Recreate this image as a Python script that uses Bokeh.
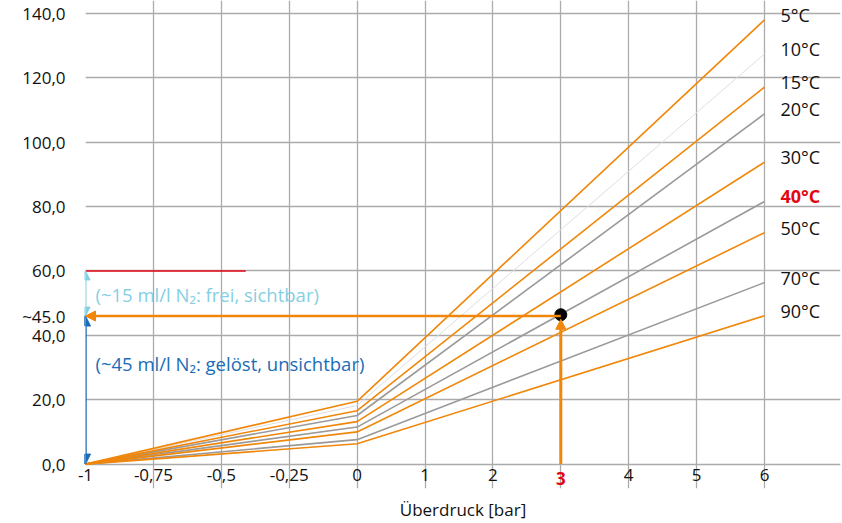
from bokeh.plotting import figure
from bokeh.models import (FixedTicker, Label, LabelSet, ColumnDataSource, Arrow,
                          NormalHead)
from bokeh.core.properties import value
from bokeh.embed import file_html
from bokeh.resources import INLINE

# ---------------- data ----------------
temps = ["5°C", "10°C", "15°C", "20°C", "30°C", "40°C", "50°C", "70°C", "90°C"]
val_at_minus1 = [0, 0, 0, 0, 0, 0, 0, 0, 0]
val_at_0bar = [19.5, 18.2, 16.6, 15.1, 13.2, 11.5, 10.0, 7.6, 6.3]
val_at_6bar = [138.0, 127.4, 117.1, 108.8, 93.8, 81.6, 71.9, 56.4, 46.1]
line_kind = ["orange", "light", "orange", "grey", "orange", "grey", "orange", "grey", "orange"]

x_ticks_bar = [-1, -0.75, -0.5, -0.25, 0, 1, 2, 3, 4, 5, 6]
x_tick_labels = ["-1", "-0,75", "-0,5", "-0,25", "0", "1", "2", "3", "4", "5", "6"]
y_ticks = [0, 20, 40, 60, 80, 100, 120, 140]
y_tick_labels = ["0,0", "20,0", "40,0", "60,0", "80,0", "100,0", "120,0", "140,0"]

work_pressure = 3          # bar
work_value = 46            # ml/l dissolved at 40°C, 3 bar ("~45")
work_label = "~45.0"
saturation_value = 60      # red line
saturation_end_bar = -0.41
highlight_temp = "40°C"
text_free = "(~15 ml/l N₂: frei, sichtbar)"
text_dissolved = "(~45 ml/l N₂: gelöst, unsichtbar)"
text_free_y = 52.7
text_dissolved_y = 31.4
x_title = "Überdruck [bar]"

# ---------------- styling ----------------
FONT = "Open Sans"
TXT = "#111111"
ORANGE = "#f0870a"
GREY = "#9a9a9a"
LIGHT = "#dedede"
RED = "#e30613"
LBLUE = "#85cfe3"
DBLUE = "#1a6db5"
GRID = "#ababab"
colors = {"orange": ORANGE, "grey": GREY, "light": LIGHT}
widths = {"orange": 1.6, "grey": 1.6, "light": 1.0}


def pos(p):
    """Map pressure (bar) to the piecewise axis position."""
    return (p + 1) * 4 if p <= 0 else 4 + p


# frame: left 85, top 0, right 840, bottom 490 px  (140 at y=13, 0 at y=465.5)
PX_PER_Y = 3.232
X_END = (840 - 85) / 67.9
Y_START = -(490 - 465.5) / PX_PER_Y
Y_END = 140 + 13 / PX_PER_Y

p = figure(width=842, height=523, x_range=(0, X_END), y_range=(Y_START, Y_END),
           output_backend="svg", toolbar_location=None,
           min_border_left=85, min_border_right=2, min_border_top=0,
           min_border_bottom=33)
p.title.visible = False
p.background_fill_color = "white"
p.border_fill_color = "white"
p.outline_line_color = None

# axes
xpos = [pos(v) for v in x_ticks_bar]
p.xaxis.ticker = FixedTicker(ticks=xpos)
ov = {xp: lab for xp, lab in zip(xpos, x_tick_labels)}
ov[pos(work_pressure)] = ""
p.xaxis.major_label_overrides = ov
p.yaxis.ticker = FixedTicker(ticks=sorted(y_ticks + [work_value]))
yov = {t: lab for t, lab in zip(y_ticks, y_tick_labels)}
yov[work_value] = work_label
p.yaxis.major_label_overrides = yov
p.ygrid.ticker = FixedTicker(ticks=y_ticks)
p.xgrid.ticker = FixedTicker(ticks=xpos)
p.ygrid.bounds = (pos(-1), pos(6))
p.xgrid.bounds = (y_ticks[0], y_ticks[-1])

for ax in (p.xaxis[0], p.yaxis[0]):
    ax.axis_line_color = None
    ax.major_tick_line_color = None
    ax.minor_tick_line_color = None
    ax.major_tick_out = 0
    ax.major_tick_in = 0
    ax.minor_tick_out = 0
    ax.major_label_text_font = FONT
    ax.major_label_text_font_size = "17px"
    ax.major_label_text_color = TXT
p.yaxis.major_label_standoff = 20
p.xaxis.major_label_standoff = -20
p.xaxis.axis_label = x_title
p.xaxis.axis_label_text_font = FONT
p.xaxis.axis_label_text_font_size = "17px"
p.xaxis.axis_label_text_font_style = "normal"
p.xaxis.axis_label_text_color = TXT
p.xaxis.axis_label_standoff = 14

p.grid.grid_line_color = GRID
p.grid.grid_line_width = 1.3

# solubility lines
xs_line = [pos(-1), pos(0), pos(6)]
order = [i for i, k in enumerate(line_kind) if k == "light"] + \
        [i for i, k in enumerate(line_kind) if k == "grey"] + \
        [i for i, k in enumerate(line_kind) if k == "orange"]
for i in order:
    k = line_kind[i]
    p.line(xs_line, [val_at_minus1[i], val_at_0bar[i], val_at_6bar[i]],
           line_color=colors[k], line_width=widths[k])

# temperature labels
lab_src = ColumnDataSource(dict(
    x=[pos(6)] * len(temps),
    y=val_at_6bar,
    text=temps,
    color=[RED if t == highlight_temp else TXT for t in temps],
    style=["bold" if t == highlight_temp else "normal" for t in temps],
))
p.add_layout(LabelSet(x="x", y="y", text="text", source=lab_src,
                      x_offset=16, y_offset=5, text_color="color",
                      text_font_style="style", text_font=value(FONT),
                      text_font_size=value("18px"), text_baseline="middle",
                      text_align="left"))

# red saturation line
p.line([pos(-1), pos(saturation_end_bar)], [saturation_value, saturation_value],
       line_color=RED, line_width=1.5)

# arrows on the y axis
p.add_layout(Arrow(x_start=pos(-1), y_start=work_value, x_end=pos(-1),
                   y_end=saturation_value, line_color=LBLUE, line_width=2,
                   start=NormalHead(size=9, fill_color=LBLUE, line_color=LBLUE),
                   end=NormalHead(size=9, fill_color=LBLUE, line_color=LBLUE)))
p.add_layout(Arrow(x_start=pos(-1), y_start=0, x_end=pos(-1),
                   y_end=work_value, line_color=DBLUE, line_width=2.5,
                   start=NormalHead(size=10, fill_color=DBLUE, line_color=DBLUE),
                   end=NormalHead(size=10, fill_color=DBLUE, line_color=DBLUE)))

# working point arrows
p.add_layout(Arrow(x_start=pos(work_pressure), y_start=work_value,
                   x_end=pos(-1), y_end=work_value, line_color=ORANGE,
                   line_width=2.5,
                   end=NormalHead(size=10, fill_color=ORANGE, line_color=ORANGE)))
p.add_layout(Arrow(x_start=pos(work_pressure), y_start=0,
                   x_end=pos(work_pressure), y_end=work_value - 1.0,
                   line_color=ORANGE, line_width=3,
                   end=NormalHead(size=10, fill_color=ORANGE, line_color=ORANGE)))
p.scatter([pos(work_pressure)], [work_value + 0.4], size=12, color="black")

# annotation texts
p.add_layout(Label(x=pos(-1), y=text_free_y, x_offset=10, text=text_free,
                   text_color=LBLUE, text_font=FONT, text_font_size="18.5px",
                   text_baseline="middle"))
p.add_layout(Label(x=pos(-1), y=text_dissolved_y, x_offset=10, text=text_dissolved,
                   text_color=DBLUE, text_font=FONT, text_font_size="18.5px",
                   text_baseline="middle"))

# highlighted x tick "3"
hl_src = ColumnDataSource(dict(x=[pos(work_pressure)], y=[0],
                               text=[str(work_pressure)]))
p.add_layout(LabelSet(x="x", y="y", text="text", source=hl_src,
                      y_offset=-14, text_color=RED,
                      text_font_style="bold", text_font=value(FONT),
                      text_font_size=value("17px"), text_baseline="middle",
                      text_align="center"))

open("out.html", "w").write(file_html(p, INLINE))
